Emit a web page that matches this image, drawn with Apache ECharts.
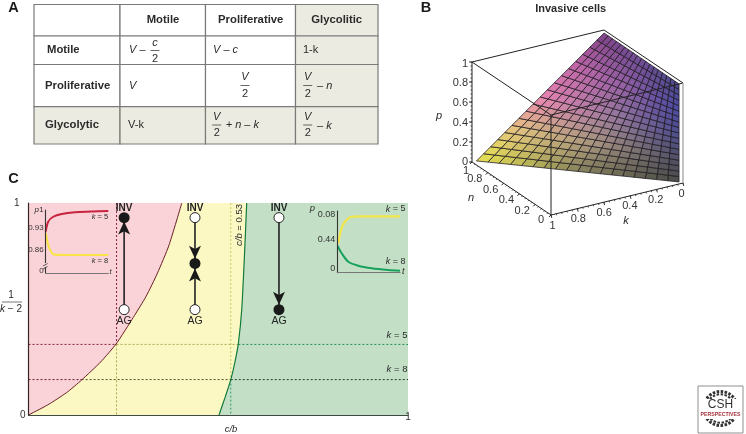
<!DOCTYPE html>
<html><head><meta charset="utf-8">
<style>html,body{margin:0;padding:0;background:#fff}#c{width:746px;height:434px}</style>
<script src="https://cdn.jsdelivr.net/npm/echarts@6/dist/echarts.min.js"></script>
</head><body><div id="c"></div>
<script>
// ---------- Panel A data
var colLabels = ['Motile', 'Proliferative', 'Glycolitic'];
var rowLabels = ['Motile', 'Proliferative', 'Glycolytic'];
// ---------- Panel B data
var meshN = [0,.056,.111,.167,.222,.278,.333,.389,.444,.5,.556,.611,.667,.722,.778,.833,.889,.944,1];
var meshP = [0,.056,.111,.167,.222,.278,.333,.389,.444,.5,.556,.611,.667,.722,.778,.833,.889,.944,1];
// surface corners as [k, n, p]
var cornerA = [.966, 1, 0];
var cornerB = [0, 1, .97];
var cornerC = [.03, 0, 1];
var cornerD = [.03, 0, .02];
var pTicks = [0, .2, .4, .6, .8, 1];
var nTicks = [0, .2, .4, .6, .8, 1];
var kTicks = [0, .2, .4, .6, .8, 1];
// ---------- Panel C data
var boundaryRed = [[0,0],[.05,.047],[.1,.105],[.14,.165],[.19,.25],[.232,.338],[.276,.46],[.31,.56],[.34,.67],[.37,.8],[.404,1]];
var boundaryGreen = [[.575,1],[.569,.75],[.562,.5],[.553,.338],[.544,.25],[.533,.167],[.518,.083],[.502,0]];
var k5y = .333, k8y = .167;
var k5x = .232, k8x = .533, k5g = .553, k8r = .14;
var phaseX = [.252, .4387, .66];
var nodeTop = .931, nodeMid = .715, nodeLow = .497;
var insetLRed = [[0,.9325],[.04,.9636],[.12,.979],[.256,.9876],[.468,.993],[.735,.995],[1,.997]];
var insetLYellow = [[0,.9275],[.04,.891],[.085,.87],[.149,.861],[.308,.86],[1,.86]];
var insetRYellow = [[.016,.467],[.059,.678],[.123,.81],[.23,.889],[.389,.895],[1,.895]];
var insetRGreen = [[.006,.424],[.07,.308],[.175,.175],[.335,.111],[.549,.07],[.813,.043],[1,.032]];
var insetLTicks = [.804, .86, .93, 1];
var insetLTickText = ['0', '0.86', '0.93', '1'];
var insetRTicks = [0, .44, .88];
var insetRTickText = ['0', '0.44', '0.08'];

var F = '"Liberation Sans", Arial, sans-serif';
var INK = '#2b2b2b';

// ---------- graphic helpers
function T(x, y, text, o) {
  o = o || {};
  var s = o.size || 11;
  return { type:'text', x:x, y:y, z:o.z || 50, rotation:o.rot || 0, style:{
    text:text, fill:o.color || INK, align:o.align || 'center', verticalAlign:'middle',
    fontFamily:F, fontSize:s, fontWeight:o.bold ? 'bold' : 'normal',
    fontStyle:o.italic ? 'italic' : 'normal',
    rich:{ i:{ fontStyle:'italic', fontSize:s, fontFamily:F, fill:o.color || INK },
           r:{ fontSize:s, fontFamily:F, fill:o.color || INK } }
  }};
}
function L(x1, y1, x2, y2, c, w, z) {
  return { type:'line', z:z || 50, shape:{x1:x1,y1:y1,x2:x2,y2:y2}, style:{stroke:c || INK, lineWidth:w || 1} };
}
function frac(x, num, den, yNum, yBar, yDen) {
  return [ T(x, yNum, num, {italic:true}), L(x-4.5, yBar, x+4.5, yBar, '#444', .8), T(x, yDen, den) ];
}

// ---------- Panel A: the table
var g = [];
g.push(T(13.5, 7.5, 'A', {bold:true, size:14.5, color:'#1a1a1a'}));
g.push(T(426, 7.5, 'B', {bold:true, size:14.5, color:'#1a1a1a'}));
g.push(T(13.5, 178.5, 'C', {bold:true, size:14.5, color:'#1a1a1a'}));
var cx = [34, 120, 205.5, 295.5, 378], cy = [4.5, 36, 64.5, 106.7, 144];
for (var r = 0; r < 4; r++) for (var c = 0; c < 4; c++) {
  var shaded = (r === 3 || c === 3);
  g.push({ type:'rect', z:10, shape:{x:cx[c], y:cy[r], width:cx[c+1]-cx[c], height:cy[r+1]-cy[r]},
    style:{fill: shaded ? '#ecebe1' : '#fff', stroke:'#7a7a78', lineWidth:1.2} });
}
var hx = [163, 250.7, 336.7];
colLabels.forEach(function(t,i){ g.push(T(hx[i], 20, t, {bold:true, size:11.3})); });
var rx = [47, 45, 45], ry = [50, 85.5, 125];
rowLabels.forEach(function(t,i){ g.push(T(rx[i], ry[i], t, {bold:true, size:11.3, align:'left'})); });
g.push(T(129, 50, 'V \u2013', {italic:true, align:'left'}));
g = g.concat(frac(155, 'c', '2', 43, 50.5, 58.5));
g.push(T(213, 50, 'V \u2013 c', {italic:true, align:'left'}));
g.push(T(303, 50, '1-k', {align:'left'}));
g.push(T(129, 85.5, 'V', {italic:true, align:'left'}));
g = g.concat(frac(245, 'V', '2', 77, 85.5, 94));
g = g.concat(frac(307.7, 'V', '2', 77, 85.5, 94));
g.push(T(317, 86, '\u2013 n', {italic:true, align:'left'}));
g.push(T(128, 125, 'V-k', {align:'left'}));
g = g.concat(frac(216.7, 'V', '2', 117, 125, 133));
g.push(T(225.7, 125, '+ n \u2013 k', {italic:true, align:'left'}));
g = g.concat(frac(307.7, 'V', '2', 117, 125, 133));
g.push(T(317, 125.5, '\u2013 k', {italic:true, align:'left'}));

// ---------- Panel B titles
g.push(T(570.7, 8.7, 'Invasive cells', {bold:true, size:11}));
g.push(T(439, 116, 'p', {italic:true, size:11}));
g.push(T(471, 197.5, 'n', {italic:true, size:11}));
g.push(T(626, 220.5, 'k', {italic:true, size:11}));

// ---------- Panel C texts
g.push(T(11, 295, '1', {size:10}));
g.push(L(2, 302, 22, 302, '#555', .8));
g.push(T(11, 309.5, '{i|k} {r|\u2212 2}', {size:10}));
g.push(T(231, 429, 'c/b', {italic:true, size:9.5}));
g.push(T(239.5, 225, '{i|c/b} {r|= 0.53}', {size:9.5, rot:Math.PI/2}));
g.push(T(397, 335.5, '{i|k} {r|= 5}', {size:9.5}));
g.push(T(397, 369, '{i|k} {r|= 8}', {size:9.5}));
// inset left texts
g.push(T(36.7, 210, 'p', {italic:true, size:8}));
g.push(T(100, 217, '{i|k} {r|= 5}', {size:7.5}));
g.push(T(100, 260.7, '{i|k} {r|= 8}', {size:7.5}));
g.push(T(110.5, 271.7, 't', {italic:true, size:7.5}));
// inset right texts
g.push(T(312.3, 208, 'p', {italic:true, size:9.5}));
g.push(T(395.7, 209, '{i|k} {r|= 5}', {size:9}));
g.push(T(395.7, 261.7, '{i|k} {r|= 8}', {size:9}));
g.push(T(403.3, 271.7, 't', {italic:true, size:9}));
// axis break mark of the left inset
g.push({type:'rect', z:60, shape:{x:44,y:263,width:3.5,height:4}, style:{fill:'#f9d3d7'}});
g.push({type:'polyline', z:61, shape:{points:[[43,266],[47.5,263.5]]}, style:{stroke:'#333',lineWidth:.8,fill:null}});
g.push({type:'polyline', z:61, shape:{points:[[43,269],[47.5,266.5]]}, style:{stroke:'#333',lineWidth:.8,fill:null}});

// ---------- Logo
g.push({type:'rect', z:50, shape:{x:698,y:386,width:45,height:47}, style:{fill:'#fff',stroke:'#8f8f8f',lineWidth:1}});
[[0,3],[.35,2]].forEach(function(d){
  g.push({type:'arc', z:51, shape:{cx:720.5,cy:408.5,r:17-d[0]*8,startAngle:Math.PI*1.05,endAngle:Math.PI*1.95},
    style:{fill:null,stroke:'#333',lineWidth:d[1],lineDash:[2.5,1.5]}});
  g.push({type:'arc', z:51, shape:{cx:720.5,cy:408.5,r:17-d[0]*8,startAngle:Math.PI*.15,endAngle:Math.PI*.85},
    style:{fill:null,stroke:'#333',lineWidth:d[1],lineDash:[2.5,1.5]}});
});
g.push({type:'rect', z:52, shape:{x:701,y:399,width:39,height:20}, style:{fill:'#fff'}});
g.push(T(720.5, 405, 'CSH', {size:12, color:'#333', z:53}));
g.push(T(720.5, 415, 'PERSPECTIVES', {size:5.2, bold:true, color:'#a8323c', z:53}));

// ---------- Panel B projection through a plain plane grid
var EK = [-132, 32], EN = [-79, -53], EP = [0, -100];
function plane(p) { return [p[0]*EK[0]+p[1]*EN[0]+p[2]*EP[0], p[0]*EK[1]+p[1]*EN[1]+p[2]*EP[1]]; }
function nodeAt(n, p) {
  var o = [];
  for (var a = 0; a < 3; a++) {
    var hi = cornerB[a]*p + cornerA[a]*(1-p), lo = cornerC[a]*p + cornerD[a]*(1-p);
    o.push(hi*n + lo*(1-n));
  }
  return o;
}
var LAT = {
  1:  ['#e8e44e','#e6c67e','#ea84b2','#c468a8','#7e4288'],
  .5: ['#84815a','#a8947e','#9c7a9e','#925fa4','#6c4c94'],
  0:  ['#4a4a46','#4d4d66','#4c4c8c','#4a4aa4','#4a4a8a']
};
function hex(c){ return [parseInt(c.substr(1,2),16),parseInt(c.substr(3,2),16),parseInt(c.substr(5,2),16)]; }
function latRow(row, p) {
  var t = Math.min(3.999, p*4), i = Math.floor(t), f = t-i, a = hex(row[i]), b = hex(row[i+1]);
  return [a[0]+(b[0]-a[0])*f, a[1]+(b[1]-a[1])*f, a[2]+(b[2]-a[2])*f];
}
function cellColor(n, p) {
  var a, b, f;
  if (n >= .5) { a = latRow(LAT[.5], p); b = latRow(LAT[1], p); f = (n-.5)*2; }
  else { a = latRow(LAT[0], p); b = latRow(LAT[.5], p); f = n*2; }
  return 'rgb('+Math.round(a[0]+(b[0]-a[0])*f)+','+Math.round(a[1]+(b[1]-a[1])*f)+','+Math.round(a[2]+(b[2]-a[2])*f)+')';
}
var cells = [];
for (var i = 0; i < meshN.length-1; i++) for (var j = 0; j < meshP.length-1; j++) cells.push([i, j]);

var boxBack = [ [[1,1,1],[0,1,1]], [[0,1,1],[0,0,1]] ];
var boxFront = [ [[1,1,1],[1,1,0]], [[1,1,1],[1,0,1]], [[1,0,1],[0,0,1]], [[1,0,1],[1,0,0]], [[1,1,0],[1,0,0]], [[1,0,0],[0,0,0]] ];

function seg(api, a, b, c, w) {
  var p1 = api.coord(plane(a)), p2 = api.coord(plane(b));
  return {type:'line', shape:{x1:p1[0],y1:p1[1],x2:p2[0],y2:p2[1]}, style:{stroke:c,lineWidth:w}};
}
function tickList(ticks, pt, major, minorStep, off, align) {
  return function(api) {
    var out = [];
    for (var v = 0; v <= 1.0001; v += minorStep) {
      var a = api.coord(plane(pt(v)));
      out.push({type:'line', shape:{x1:a[0],y1:a[1],x2:a[0]+major[0]*.5,y2:a[1]+major[1]*.5}, style:{stroke:'#222',lineWidth:.8}});
    }
    ticks.forEach(function(v){
      var a = api.coord(plane(pt(v)));
      out.push({type:'line', shape:{x1:a[0],y1:a[1],x2:a[0]+major[0],y2:a[1]+major[1]}, style:{stroke:'#222',lineWidth:.9}});
      var d = off(v);
      out.push({type:'text', x:a[0]+d[0], y:a[1]+d[1], style:{text:String(v), fontFamily:F, fontSize:11, fill:'#333', align:align, verticalAlign:'middle'}});
    });
    return out;
  };
}
var pTickDraw = tickList(pTicks, function(v){return [1,1,v];}, [-3,0], .04, function(v){return [-4, v === 1 ? 2 : (v === 0 ? 0 : 1)];}, 'right');
var nTickDraw = tickList(nTicks, function(v){return [1,v,0];}, [-2,2], .04, function(v){ return v === 1 ? [-6,9] : (v === 0 ? [-10,5] : [-13,6.5]); }, 'center');
var kTickDraw = tickList(kTicks, function(v){return [v,0,0];}, [.8,3], .04, function(v){ return [-1.5+ (v*3), 10.5]; }, 'center');

var ARROW = 'path://M0 -7L6 7L0 3.5L-6 7Z';
function invLabel(){ return {show:true, formatter:'INV', position:'top', distance:-1, color:'#222', fontFamily:F, fontSize:10, fontWeight:'bold'}; }
function agLabel(){ return {show:true, formatter:'AG', position:'bottom', distance:0, color:'#222', fontFamily:F, fontSize:10.5}; }

function dash(pts, color, w) {
  return {type:'line', xAxisIndex:0, yAxisIndex:0, data:pts, symbol:'none', z:4, silent:true,
    lineStyle:{color:color, width:w || 1, type:[2,2]}};
}
function vline(x, a, b) { return [[x,a],[x,b]]; }
function hline(y, a, b) { return [[a,y],[b,y]]; }

var yellowPoly = [[0,1]].concat(boundaryGreen);

var series = [
  {type:'custom', coordinateSystem:'cartesian2d', xAxisIndex:1, yAxisIndex:1, z:2, silent:true, data:[0], clip:false,
   renderItem:function(p, api){ return {type:'group', children:boxBack.map(function(e){return seg(api,e[0],e[1],'#222',1);})}; }},
  {type:'custom', coordinateSystem:'cartesian2d', xAxisIndex:1, yAxisIndex:1, z:3, silent:true, data:cells, clip:false,
   encode:{x:0, y:1},
   renderItem:function(p, api){
     var i = api.value(0), j = api.value(1);
     var q = [[i,j],[i+1,j],[i+1,j+1],[i,j+1]].map(function(t){ return api.coord(plane(nodeAt(meshN[t[0]], meshP[t[1]]))); });
     return {type:'polygon', shape:{points:q},
       style:{fill:cellColor((meshN[i]+meshN[i+1])/2,(meshP[j]+meshP[j+1])/2), stroke:'#1c181f', lineWidth:.75}};
   }},
  {type:'custom', coordinateSystem:'cartesian2d', xAxisIndex:1, yAxisIndex:1, z:4, silent:true, data:[0], clip:false,
   renderItem:function(p, api){
     var ch = boxFront.map(function(e){return seg(api,e[0],e[1],'#222',1);});
     ch.push(seg(api,[0,0,1],[0,0,0],'#b4b4b4',1.6));
     ch = ch.concat(pTickDraw(api), nTickDraw(api), kTickDraw(api));
     return {type:'group', children:ch};
   }},
  {type:'line', xAxisIndex:0, yAxisIndex:0, z:1, symbol:'none', silent:true, data:[[0,1],[1,1]],
   lineStyle:{width:0}, areaStyle:{color:'#c3e0c6', opacity:1, origin:'start'}},
  {type:'line', xAxisIndex:0, yAxisIndex:0, z:2, symbol:'none', silent:true, data:yellowPoly,
   lineStyle:{width:0}, areaStyle:{color:'#fbf8c4', opacity:1, origin:'start'}},
  {type:'line', xAxisIndex:0, yAxisIndex:0, z:3, symbol:'none', silent:true, data:boundaryRed, smooth:.2,
   lineStyle:{width:0}, areaStyle:{color:'#f9d3d7', opacity:1, origin:'end'}},
  dash(vline(k5x,1,k5y), '#8f2140'), dash(vline(k5x,k5y,0), '#a9a84a'),
  dash(vline(k8x,1,k8y), '#c9c25c'), dash(vline(k8x,k8y,0), '#2f9a70'),
  dash(hline(k5y,0,k5x), '#8f2140'), dash(hline(k5y,k5x,k5g), '#a9a84a'), dash(hline(k5y,k5g,1), '#1f8a58'),
  dash(hline(k8y,0,k8r), '#6b1f30'), dash(hline(k8y,k8r,k8x), '#4f4f2a'), dash(hline(k8y,k8x,1), '#23402c'),
  {type:'line', xAxisIndex:0, yAxisIndex:0, z:5, symbol:'none', silent:true, data:boundaryRed, smooth:.2, lineStyle:{color:'#6b1f28', width:1}},
  {type:'line', xAxisIndex:0, yAxisIndex:0, z:5, symbol:'none', silent:true, data:boundaryGreen, smooth:.2, lineStyle:{color:'#127a3a', width:1.2}},
  {type:'line', xAxisIndex:0, yAxisIndex:0, z:6, symbol:'none', silent:true, data:[[phaseX[0],nodeLow],[phaseX[0],nodeTop]], lineStyle:{color:'#222',width:1.6}},
  {type:'line', xAxisIndex:0, yAxisIndex:0, z:6, symbol:'none', silent:true, data:[[phaseX[1],nodeLow],[phaseX[1],nodeTop]], lineStyle:{color:'#222',width:1.6}},
  {type:'line', xAxisIndex:0, yAxisIndex:0, z:6, symbol:'none', silent:true, data:[[phaseX[2],nodeLow],[phaseX[2],nodeTop]], lineStyle:{color:'#222',width:1.6}},
  {type:'scatter', xAxisIndex:0, yAxisIndex:0, z:7, silent:true, symbol:ARROW, symbolSize:[12,13], symbolKeepAspect:false,
   itemStyle:{color:'#1a1a1a', opacity:1},
   data:[{value:[phaseX[0],.882],symbolRotate:0},{value:[phaseX[1],.768],symbolRotate:180},{value:[phaseX[1],.66],symbolRotate:0},{value:[phaseX[2],.551],symbolRotate:180}]},
  {type:'scatter', xAxisIndex:0, yAxisIndex:0, z:8, silent:true, symbol:'circle', symbolSize:11,
   itemStyle:{color:'#1a1a1a', opacity:1},
   data:[{value:[phaseX[0],nodeTop],label:invLabel()},{value:[phaseX[1],nodeMid]},{value:[phaseX[2],nodeLow],label:agLabel()}]},
  {type:'scatter', xAxisIndex:0, yAxisIndex:0, z:8, silent:true, symbol:'circle', symbolSize:10,
   itemStyle:{color:'#fff', borderColor:'#222', borderWidth:1, opacity:1},
   data:[{value:[phaseX[0],nodeLow],label:agLabel()},{value:[phaseX[1],nodeTop],label:invLabel()},{value:[phaseX[1],nodeLow],label:agLabel()},{value:[phaseX[2],nodeTop],label:invLabel()}]},
  {type:'line', xAxisIndex:2, yAxisIndex:2, z:9, symbol:'none', silent:true, data:insetLRed, smooth:.3, lineStyle:{color:'#c8243f', width:2}},
  {type:'line', xAxisIndex:2, yAxisIndex:2, z:9, symbol:'none', silent:true, data:insetLYellow, smooth:.3, lineStyle:{color:'#f9e34a', width:2.2}},
  {type:'line', xAxisIndex:3, yAxisIndex:3, z:9, symbol:'none', silent:true, data:insetRYellow, smooth:.3, lineStyle:{color:'#f2e64a', width:2.2}},
  {type:'line', xAxisIndex:3, yAxisIndex:3, z:9, symbol:'none', silent:true, data:insetRGreen, smooth:.3, lineStyle:{color:'#17a15c', width:2}}
];

function insetAxisY(idx, ticks, text, min, max, size, nudge) {
  var rich = {};
  text.forEach(function(t,i){ rich['t'+i] = {fontFamily:F, fontSize:size, color:'#333', padding:[0,0,nudge[i],0]}; });
  return {type:'value', gridIndex:idx, min:min, max:max, z:12, splitLine:{show:false},
    axisLine:{show:true, onZero:false, lineStyle:{color:'#333', width:1.1}}, axisTick:{show:false},
    axisLabel:{show:true, customValues:ticks, margin:2, rich:rich, showMinLabel:true, showMaxLabel:true,
      formatter:function(v){ for (var i=0;i<ticks.length;i++) if (Math.abs(ticks[i]-v)<1e-6) return '{t'+i+'|'+text[i]+'}'; return ''; }}};
}
function insetAxisX(idx) {
  return {type:'value', gridIndex:idx, min:0, max:1, z:12, splitLine:{show:false},
    axisLine:{show:true, onZero:false, lineStyle:{color:'#777', width:1.2}}, axisTick:{show:false}, axisLabel:{show:false}};
}

var option = {
  animation:false,
  backgroundColor:'#fff',
  grid:[
    {left:28.5, top:203, width:379.5, height:212, containLabel:false},
    {left:463, top:3, width:240, height:240},
    {left:45.7, top:210, width:62.6, height:63},
    {left:337.3, top:211, width:62.7, height:61.7}
  ],
  xAxis:[
    {type:'value', gridIndex:0, min:0, max:1, splitLine:{show:false}, z:9,
     axisLine:{show:true, onZero:false, lineStyle:{color:'#3d4a3f', width:1.2}}, axisTick:{show:false},
     axisLabel:{show:true, customValues:[1], margin:-3, fontFamily:F, fontSize:10, color:'#333', alignMaxLabel:'left'}},
    {type:'value', gridIndex:1, min:-220, max:20, show:false, splitLine:{show:false}},
    insetAxisX(2), insetAxisX(3)
  ],
  yAxis:[
    {type:'value', gridIndex:0, min:0, max:1, splitLine:{show:false}, z:9,
     axisLine:{show:true, onZero:false, lineStyle:{color:'#3a2526', width:1.2}}, axisTick:{show:false},
     axisLabel:{show:true, customValues:[0,1], margin:3, fontFamily:F, fontSize:10, color:'#333',
       rich:{a:{fontFamily:F,fontSize:10,color:'#333'}, b:{fontFamily:F,fontSize:10,color:'#333',padding:[0,6,0,0]}},
       formatter:function(v){ return v === 1 ? '{b|1}' : '{a|0}'; }}},
    {type:'value', gridIndex:1, min:-180, max:60, inverse:true, show:false, splitLine:{show:false}},
    insetAxisY(2, insetLTicks, insetLTickText, .804, 1, 8, [4,10,9,0]),
    insetAxisY(3, insetRTicks, insetRTickText, 0, .98, 9, [8,10,6])
  ],
  series:series,
  graphic:{elements:g}
};
var chart = echarts.init(document.getElementById('c'), null, {renderer:'canvas'});
chart.setOption(option);
</script></body></html>
